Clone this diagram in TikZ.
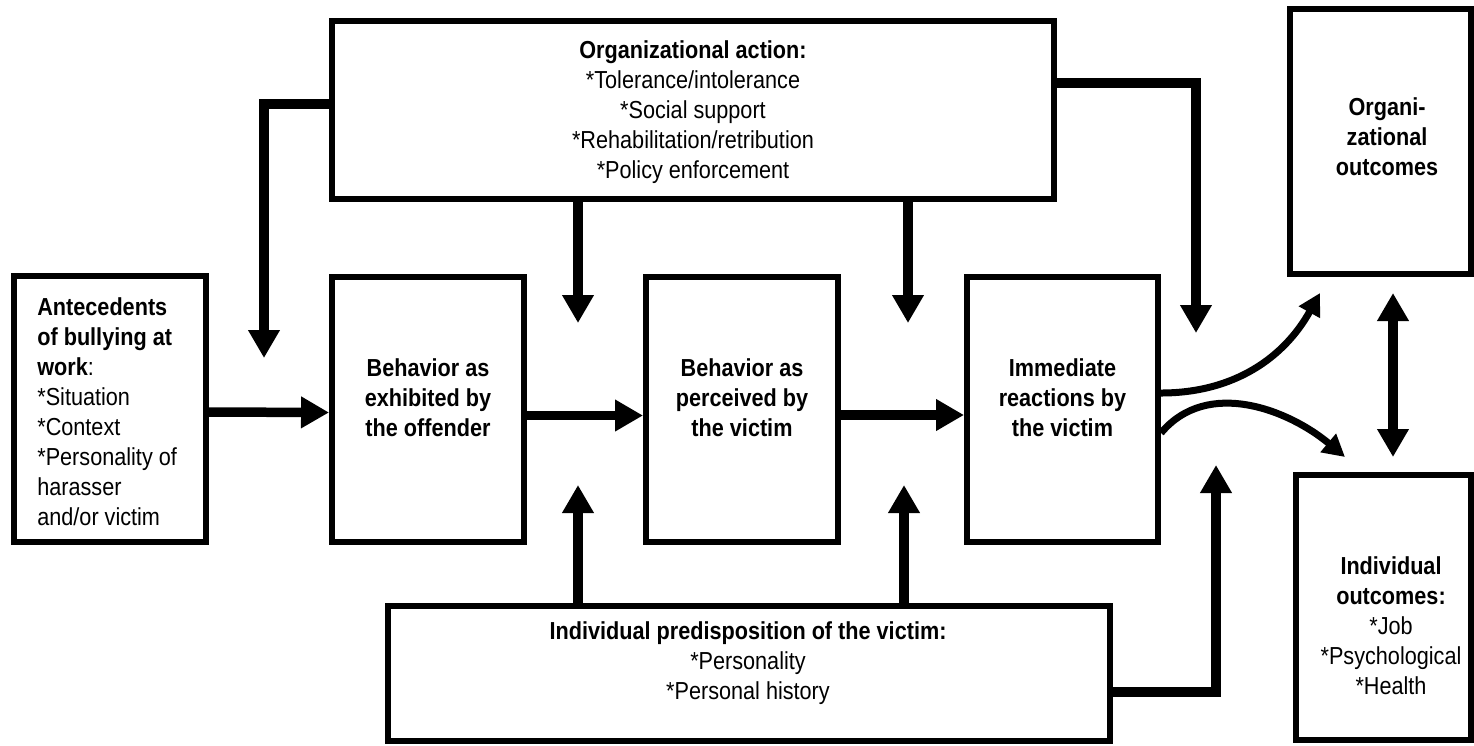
\documentclass[tikz,border=0pt]{standalone}
\usepackage{fontspec}
\setmainfont{Liberation Sans}[FakeStretch=0.88]
\usetikzlibrary{arrows.meta}
\begin{document}
\begin{tikzpicture}[x=0.02cm,y=-0.02cm,
  box/.style={draw, line width=0.12cm, inner sep=0pt},
  txt/.style={font=\fontsize{14}{17.07}\selectfont, align=center, inner sep=0pt},
  arr/.style={line width=0.19cm, -{Triangle[width=0.6cm,length=0.56cm]}},
  carr/.style={line width=0.14cm, -{Triangle[width=0.46cm,length=0.44cm]}},
  darr/.style={line width=0.19cm, {Triangle[width=0.6cm,length=0.56cm]}-{Triangle[width=0.6cm,length=0.56cm]}}
]
\useasboundingbox (0,0) rectangle (1474,745);

% boxes
\node[box, minimum width=3.84cm, minimum height=5.32cm] (ante) at (110,409) {};
\node[box, minimum width=3.84cm, minimum height=5.30cm] (off) at (428,409.5) {};
\node[box, minimum width=3.84cm, minimum height=5.30cm] (per) at (742,409.5) {};
\node[box, minimum width=3.82cm, minimum height=5.30cm] (imm) at (1062.5,409.5) {};
\node[box, minimum width=14.44cm, minimum height=3.56cm] (top) at (693,110) {};
\node[box, minimum width=14.44cm, minimum height=2.70cm] (bot) at (749,673.5) {};
\node[box, minimum width=3.62cm, minimum height=5.30cm] (org) at (1380.5,141.5) {};
\node[box, minimum width=3.50cm, minimum height=5.30cm] (ind) at (1383.5,607.5) {};

% texts
\node[txt, align=left, anchor=west] (antet) at (37,412) {\textbf{Antecedents}\\\textbf{of bullying at}\\\textbf{work}:\\*Situation\\*Context\\*Personality of\\harasser\\and/or victim};
\node[txt] (offt) at (428,398) {\textbf{Behavior as}\\\textbf{exhibited by}\\\textbf{the offender}};
\node[txt] (pert) at (742,398) {\textbf{Behavior as}\\\textbf{perceived by}\\\textbf{the victim}};
\node[txt] (immt) at (1062.5,398) {\textbf{Immediate}\\\textbf{reactions by}\\\textbf{the victim}};
\node[txt] (topt) at (693,112) {\textbf{Organizational action:}\\*Tolerance/intolerance\\*Social support\\*Rehabilitation/retribution\\*Policy enforcement};
\node[txt] (bott) at (748,663) {\textbf{Individual predisposition of the victim:}\\*Personality\\*Personal history};
\node[txt] (orgt) at (1387,137) {\textbf{Organi-}\\\textbf{zational}\\\textbf{outcomes}};
\node[txt] (indt) at (1391,626) {\textbf{Individual}\\\textbf{outcomes:}\\*Job\\*Psychological\\*Health};

% coordinates
\coordinate (d1) at (578,323);
\coordinate (d2) at (908,323);
\coordinate (u1) at (578,485);
\coordinate (u2) at (904,485);
\coordinate (lh) at (0,104);
\coordinate (lt) at (264,358);
\coordinate (rh) at (0,83);
\coordinate (rt) at (1196,333);
\coordinate (bh) at (0,692);
\coordinate (bt) at (1216,465);
\coordinate (c1) at (1320,293);
\coordinate (c2) at (1345,457);
\coordinate (da1) at (1393,293);
\coordinate (da2) at (1393,457);

% horizontal chain
\draw[arr] ([yshift=-0.06cm]ante.east) -- ([yshift=-0.06cm]off.west);
\draw[arr] ([yshift=-0.12cm]off.east) -- ([yshift=-0.12cm]per.west);
\draw[arr] ([yshift=-0.11cm]per.east) -- ([yshift=-0.11cm]imm.west);

% from organizational action
\draw[arr] (top.south -| d1) -- (d1);
\draw[arr] (top.south -| d2) -- (d2);
\draw[arr] (top.west |- lh) -| (lt);
\draw[arr] (top.east |- rh) -| (rt);

% from individual predisposition
\draw[arr] (bot.north -| u1) -- (u1);
\draw[arr] (bot.north -| u2) -- (u2);
\draw[arr] (bot.east |- bh) -| (bt);

% outcomes
\draw[carr] ([yshift=0.33cm]imm.east) to[out=0,in=241] (c1);
\draw[carr] ([yshift=-0.47cm]imm.east) to[out=50,in=140] (c2);
\draw[darr] (da1) -- (da2);
\end{tikzpicture}
\end{document}
